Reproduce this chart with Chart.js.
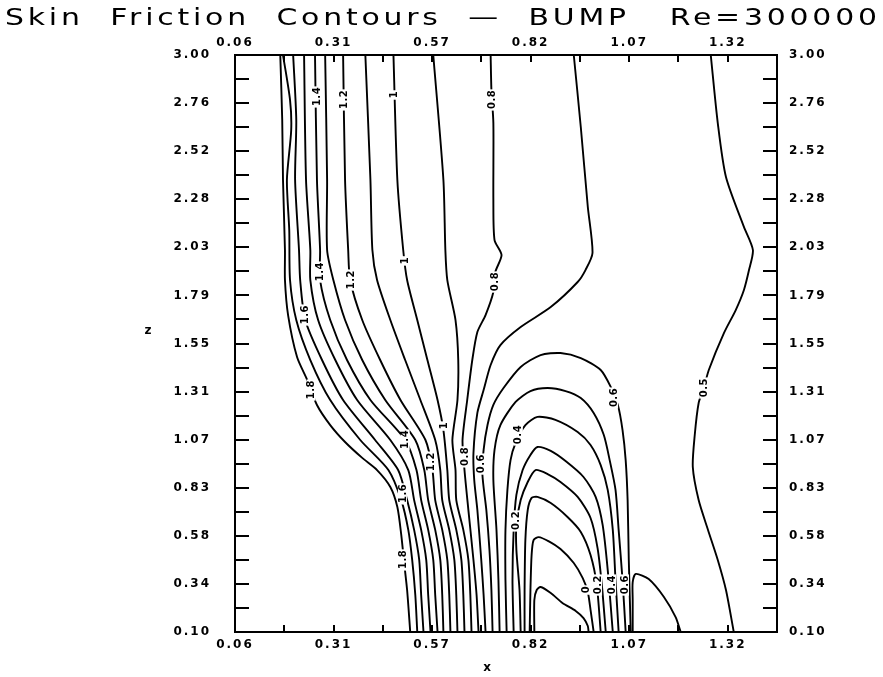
<!DOCTYPE html>
<html>
<head>
<meta charset="utf-8">
<title>Skin Friction Contours - BUMP</title>
<script src="https://cdn.jsdelivr.net/npm/chart.js@4.4.1/dist/chart.umd.min.js"></script>
<style>
  html, body { margin: 0; padding: 0; background: #fff; }
  #wrap { width: 883px; height: 677px; }
</style>
</head>
<body>
<div id="wrap"><canvas id="cf" width="883" height="677"></canvas></div>
<script>
// axis ticks
const xTickValues = [0.06, 0.3125, 0.565, 0.8175, 1.07, 1.3225];
const xTickLabels = ['0.06', '0.31', '0.57', '0.82', '1.07', '1.32'];
const xMinorTicks = [0.18625, 0.43875, 0.69125, 0.94375, 1.19625];
const yTickValues = [0.1, 0.34167, 0.58333, 0.825, 1.06667, 1.30833, 1.55, 1.79167, 2.03333, 2.275, 2.51667, 2.75833, 3.0];
const yTickLabels = ['0.10', '0.34', '0.58', '0.83', '1.07', '1.31', '1.55', '1.79', '2.03', '2.28', '2.52', '2.76', '3.00'];
const yMinorTicks = [0.22083, 0.4625, 0.70417, 0.94583, 1.1875, 1.42917, 1.67083, 1.9125, 2.15417, 2.39583, 2.6375, 2.87917];

// contour lines as [x, z]
const c18 = [[.176,3],[.181,2.673],[.183,2.372],[.188,2.02],[.188,1.869],[.196,1.693],[.219,1.482],[.245,1.367],[.270,1.241],[.304,1.140],[.342,1.055],[.386,.975],[.424,.914],[.458,.829],[.476,.728],[.486,.588],[.494,.437],[.501,.311],[.509,.1]];
const c17 = [[.183,3],[.201,2.774],[.204,2.623],[.193,2.372],[.199,2.120],[.201,1.869],[.217,1.668],[.253,1.467],[.304,1.266],[.381,1.065],[.453,.914],[.486,.763],[.504,.613],[.514,.462],[.522,.286],[.527,.1]];
const c16 = [[.209,3],[.217,2.673],[.214,2.372],[.224,2.02],[.227,1.869],[.240,1.668],[.283,1.467],[.337,1.266],[.419,1.065],[.478,.914],[.501,.763],[.519,.613],[.532,.462],[.537,.286],[.543,.1]];
const c15 = [[.237,3],[.242,2.372],[.253,2.02],[.253,1.869],[.273,1.668],[.317,1.467],[.373,1.266],[.458,1.065],[.504,.914],[.519,.763],[.537,.613],[.550,.462],[.555,.286],[.561,.1]];
const c14 = [[.265,3],[.270,2.372],[.278,2.02],[.278,1.869],[.304,1.668],[.347,1.467],[.407,1.266],[.496,1.065],[.525,.914],[.537,.763],[.555,.613],[.568,.462],[.573,.286],[.579,.1]];
const c13 = [[.291,3],[.296,2.372],[.296,2.02],[.312,1.869],[.342,1.668],[.386,1.467],[.445,1.266],[.522,1.065],[.545,.914],[.555,.763],[.573,.613],[.586,.462],[.591,.286],[.594,.1]];
const c12 = [[.337,3],[.342,2.372],[.350,2.02],[.355,1.869],[.386,1.668],[.432,1.467],[.484,1.266],[.548,1.065],[.566,.914],[.573,.763],[.591,.613],[.604,.462],[.609,.286],[.612,.1]];
const c11 = [[.394,3],[.407,2.372],[.412,2.02],[.424,1.869],[.458,1.668],[.496,1.467],[.535,1.266],[.573,1.065],[.586,.914],[.591,.763],[.609,.613],[.622,.462],[.627,.286],[.630,.1]];
const c10 = [[.466,3],[.476,2.372],[.491,2.02],[.501,1.869],[.527,1.668],[.553,1.467],[.579,1.266],[.594,1.115],[.604,.914],[.609,.763],[.627,.613],[.640,.462],[.645,.286],[.648,.1]];
const c09 = [[.568,3],[.594,2.372],[.599,2.02],[.604,1.869],[.625,1.668],[.632,1.467],[.630,1.266],[.617,1.065],[.625,.914],[.627,.763],[.645,.613],[.658,.462],[.663,.286],[.666,.1]];
const c08 = [[.715,3],[.717,2.824],[.722,2.658],[.722,2.271],[.725,2.070],[.743,1.995],[.727,1.909],[.722,1.809],[.702,1.693],[.681,1.608],[.668,1.467],[.655,1.266],[.643,1.065],[.648,.914],[.658,.713],[.671,.462],[.679,.286],[.684,.1]];
const c07 = [[.928,3],[.946,2.638],[.964,2.236],[.976,2.005],[.958,1.919],[.938,1.859],[.869,1.733],[.792,1.633],[.740,1.542],[.715,1.442],[.697,1.316],[.681,1.201],[.671,1.0],[.673,.864],[.681,.713],[.691,.462],[.697,.286],[.702,.1]];
const d06 = [[.720,.1],[.717,.311],[.712,.512],[.704,.713],[.694,.889],[.697,1.015],[.707,1.140],[.722,1.241],[.748,1.326],[.792,1.432],[.843,1.492],[.894,1.502],[.946,1.477],[.997,1.417],[1.023,1.331],[1.041,1.241],[1.053,1.115],[1.061,.964],[1.066,.763],[1.069,.462],[1.074,.1]];
const d05 = [[.738,.1],[.735,.361],[.730,.613],[.722,.864],[.725,1.015],[.740,1.140],[.779,1.256],[.817,1.311],[.861,1.326],[.907,1.311],[.946,1.276],[.979,1.201],[1.005,1.090],[1.020,.964],[1.035,.814],[1.043,.613],[1.053,.361],[1.061,.1]];
const d04 = [[.756,.1],[.753,.361],[.753,.613],[.758,.814],[.766,.964],[.779,1.050],[.804,1.140],[.835,1.181],[.881,1.166],[.938,1.105],[.971,1.040],[.997,.939],[1.015,.814],[1.028,.613],[1.035,.361],[1.043,.1]];
const d03 = [[.774,.1],[.771,.361],[.774,.613],[.781,.789],[.797,.914],[.817,.990],[.835,1.030],[.869,1.010],[.907,.959],[.953,.879],[.984,.779],[1.002,.638],[1.015,.412],[1.028,.1]];
const d02 = [[.792,.1],[.789,.311],[.781,.512],[.781,.638],[.792,.763],[.810,.854],[.830,.914],[.861,.894],[.894,.854],[.938,.779],[.971,.673],[.989,.522],[1.000,.336],[1.010,.1]];
const d01 = [[.802,.1],[.802,.311],[.804,.562],[.810,.713],[.820,.774],[.835,.779],[.869,.748],[.912,.678],[.946,.603],[.971,.487],[.987,.336],[.997,.1]];
const d00 = [[.815,.1],[.817,.311],[.820,.487],[.825,.562],[.838,.577],[.863,.557],[.894,.517],[.928,.447],[.951,.371],[.964,.301],[.971,.211],[.979,.1]];
const dInner = [[.827,.1],[.827,.261],[.833,.311],[.843,.326],[.869,.296],[.899,.246],[.933,.206],[.953,.170],[.964,.130],[.966,.1]];
const dSmall = [[1.079,.1],[1.079,.261],[1.079,.351],[1.087,.392],[1.120,.366],[1.159,.276],[1.189,.175],[1.202,.1]];
const cRight = [[1.279,3],[1.297,2.658],[1.318,2.387],[1.364,2.136],[1.387,2.020],[1.377,1.919],[1.364,1.819],[1.343,1.718],[1.313,1.603],[1.274,1.417],[1.261,1.326],[1.248,1.251],[1.238,1.090],[1.233,.929],[1.248,.763],[1.272,.613],[1.297,.462],[1.318,.311],[1.338,.1]];

const contourLines = [c18, c17, c16, c15, c14, c13, c12, c11, c10, c09, c08, c07,
  d06, d05, d04, d03, d02, d01, d00, dInner, dSmall, cRight];

// inline contour labels
const labelText = ['1.4', '1.2', '1', '0.8', '1.4', '1.2', '1', '0.8', '1.6', '1.8',
  '1.4', '1.2', '1', '0.8', '0.6', '0.4', '1.6', '1.8', '0.2', '0.6', '0.5',
  '0', '0.2', '0.4', '0.6'];
const labelX = [.270, .340, .468, .717, .278, .358, .496, .725, .240, .255,
  .496, .563, .594, .648, .691, .786, .489, .491, .781, 1.030, 1.261,
  .958, .989, 1.025, 1.058];
const labelZ = [2.789, 2.774, 2.799, 2.774, 1.909, 1.869, 1.965, 1.859, 1.693, 1.316,
  1.065, .954, 1.135, .980, .944, 1.090, .794, .462, .658, 1.276, 1.326,
  .311, .336, .336, .336];

const tickFont = { family: 'DejaVu Sans', weight: 'bold', size: 12 };

function fixedTicks(values) {
  return function (scale) {
    scale.ticks = values.map(v => ({ value: v }));
  };
}

const axisBits = {
  id: 'axisBits',
  beforeDraw(chart) {
    chart.ctx.letterSpacing = '2px';
  },
  afterDatasetsDraw(chart) {
    const ctx = chart.ctx;
    const sx = chart.scales.x, sy = chart.scales.y;
    ctx.save();
    ctx.letterSpacing = '0.5px';
    ctx.font = 'bold 10px "DejaVu Sans"';
    ctx.textAlign = 'center';
    ctx.textBaseline = 'middle';
    labelText.forEach((t, i) => {
      const px = sx.getPixelForValue(labelX[i]);
      const py = sy.getPixelForValue(labelZ[i]);
      const w = ctx.measureText(t).width + 2;
      ctx.save();
      ctx.translate(px, py);
      ctx.rotate(-Math.PI / 2);
      ctx.fillStyle = '#fff';
      ctx.fillRect(-w / 2, -4.5, w, 9);
      ctx.fillStyle = '#000';
      ctx.fillText(t, 0.5, 0.5);
      ctx.restore();
    });
    ctx.restore();
  },
  afterDraw(chart) {
    const ctx = chart.ctx;
    const a = chart.chartArea;
    const sx = chart.scales.x, sy = chart.scales.y;
    ctx.save();
    ctx.strokeStyle = '#000';
    ctx.lineWidth = 2;
    ctx.beginPath();
    xMinorTicks.concat(xTickValues.slice(1)).forEach(v => {
      const px = Math.round(sx.getPixelForValue(v));
      ctx.moveTo(px, a.bottom); ctx.lineTo(px, a.bottom - 7);
      ctx.moveTo(px, a.top); ctx.lineTo(px, a.top + 7);
    });
    yMinorTicks.concat(yTickValues.slice(1, -1)).forEach(v => {
      const py = Math.round(sy.getPixelForValue(v));
      ctx.moveTo(a.left, py); ctx.lineTo(a.left + 14, py);
      ctx.moveTo(a.right, py); ctx.lineTo(a.right - 14, py);
    });
    ctx.stroke();

    // axis names
    ctx.letterSpacing = '0px';
    ctx.fillStyle = '#000';
    ctx.font = 'bold 12px "DejaVu Sans"';
    ctx.textAlign = 'center';
    ctx.textBaseline = 'middle';
    ctx.fillText('x', 487, 668);
    ctx.fillText('z', 148, 331);

    // title, stretched like the plotter lettering
    const title = 'Skin  Friction  Contours  \u2014  BUMP   Re=300000';
    const stretch = 1.3;
    ctx.font = '23px "DejaVu Sans"';
    ctx.textAlign = 'left';
    ctx.textBaseline = 'alphabetic';
    const natural = ctx.measureText(title).width;
    const spacing = Math.max(0, (872 / stretch - natural) / (title.length - 1));
    ctx.letterSpacing = spacing + 'px';
    ctx.translate(5, 25);
    ctx.scale(stretch, 1);
    ctx.fillText(title, 0, 0);
    ctx.restore();
  }
};

new Chart(document.getElementById('cf'), {
  type: 'scatter',
  data: {
    datasets: contourLines.map(line => ({
      data: line.map(p => ({ x: p[0], y: p[1] })),
      showLine: true,
      borderColor: '#000',
      borderWidth: 1.9,
      pointRadius: 0,
      tension: 0.25,
      fill: false
    }))
  },
  options: {
    responsive: false,
    animation: false,
    devicePixelRatio: 1,
    layout: { padding: 0 },
    plugins: { legend: { display: false }, tooltip: { enabled: false }, title: { display: false } },
    scales: {
      x: {
        type: 'linear', position: 'bottom', min: 0.06, max: 1.44875,
        afterBuildTicks: fixedTicks(xTickValues),
        afterFit: s => { s.height = 45; },
        ticks: { autoSkip: false, maxRotation: 0, minRotation: 0, padding: 6, color: '#000', font: tickFont,
          callback: (v, i) => xTickLabels[i] },
        grid: { display: false, drawTicks: false },
        border: { display: true, color: '#000', width: 2 }
      },
      x2: {
        type: 'linear', position: 'top', min: 0.06, max: 1.44875,
        afterBuildTicks: fixedTicks(xTickValues),
        afterFit: s => { s.height = 55; },
        ticks: { autoSkip: false, maxRotation: 0, minRotation: 0, padding: 5, color: '#000', font: tickFont,
          callback: (v, i) => xTickLabels[i] },
        grid: { display: false, drawTicks: false },
        border: { display: true, color: '#000', width: 2 }
      },
      y: {
        type: 'linear', position: 'left', min: 0.1, max: 3.0,
        afterBuildTicks: fixedTicks(yTickValues),
        afterFit: s => { s.width = 235; },
        ticks: { autoSkip: false, padding: 24, color: '#000', font: tickFont,
          callback: (v, i) => yTickLabels[i] },
        grid: { display: false, drawTicks: false },
        border: { display: true, color: '#000', width: 2 }
      },
      y2: {
        type: 'linear', position: 'right', min: 0.1, max: 3.0,
        afterBuildTicks: fixedTicks(yTickValues),
        afterFit: s => { s.width = 106; },
        ticks: { autoSkip: false, padding: 12, color: '#000', font: tickFont,
          callback: (v, i) => yTickLabels[i] },
        grid: { display: false, drawTicks: false },
        border: { display: true, color: '#000', width: 2 }
      }
    }
  },
  plugins: [axisBits]
});
</script>
</body>
</html>
